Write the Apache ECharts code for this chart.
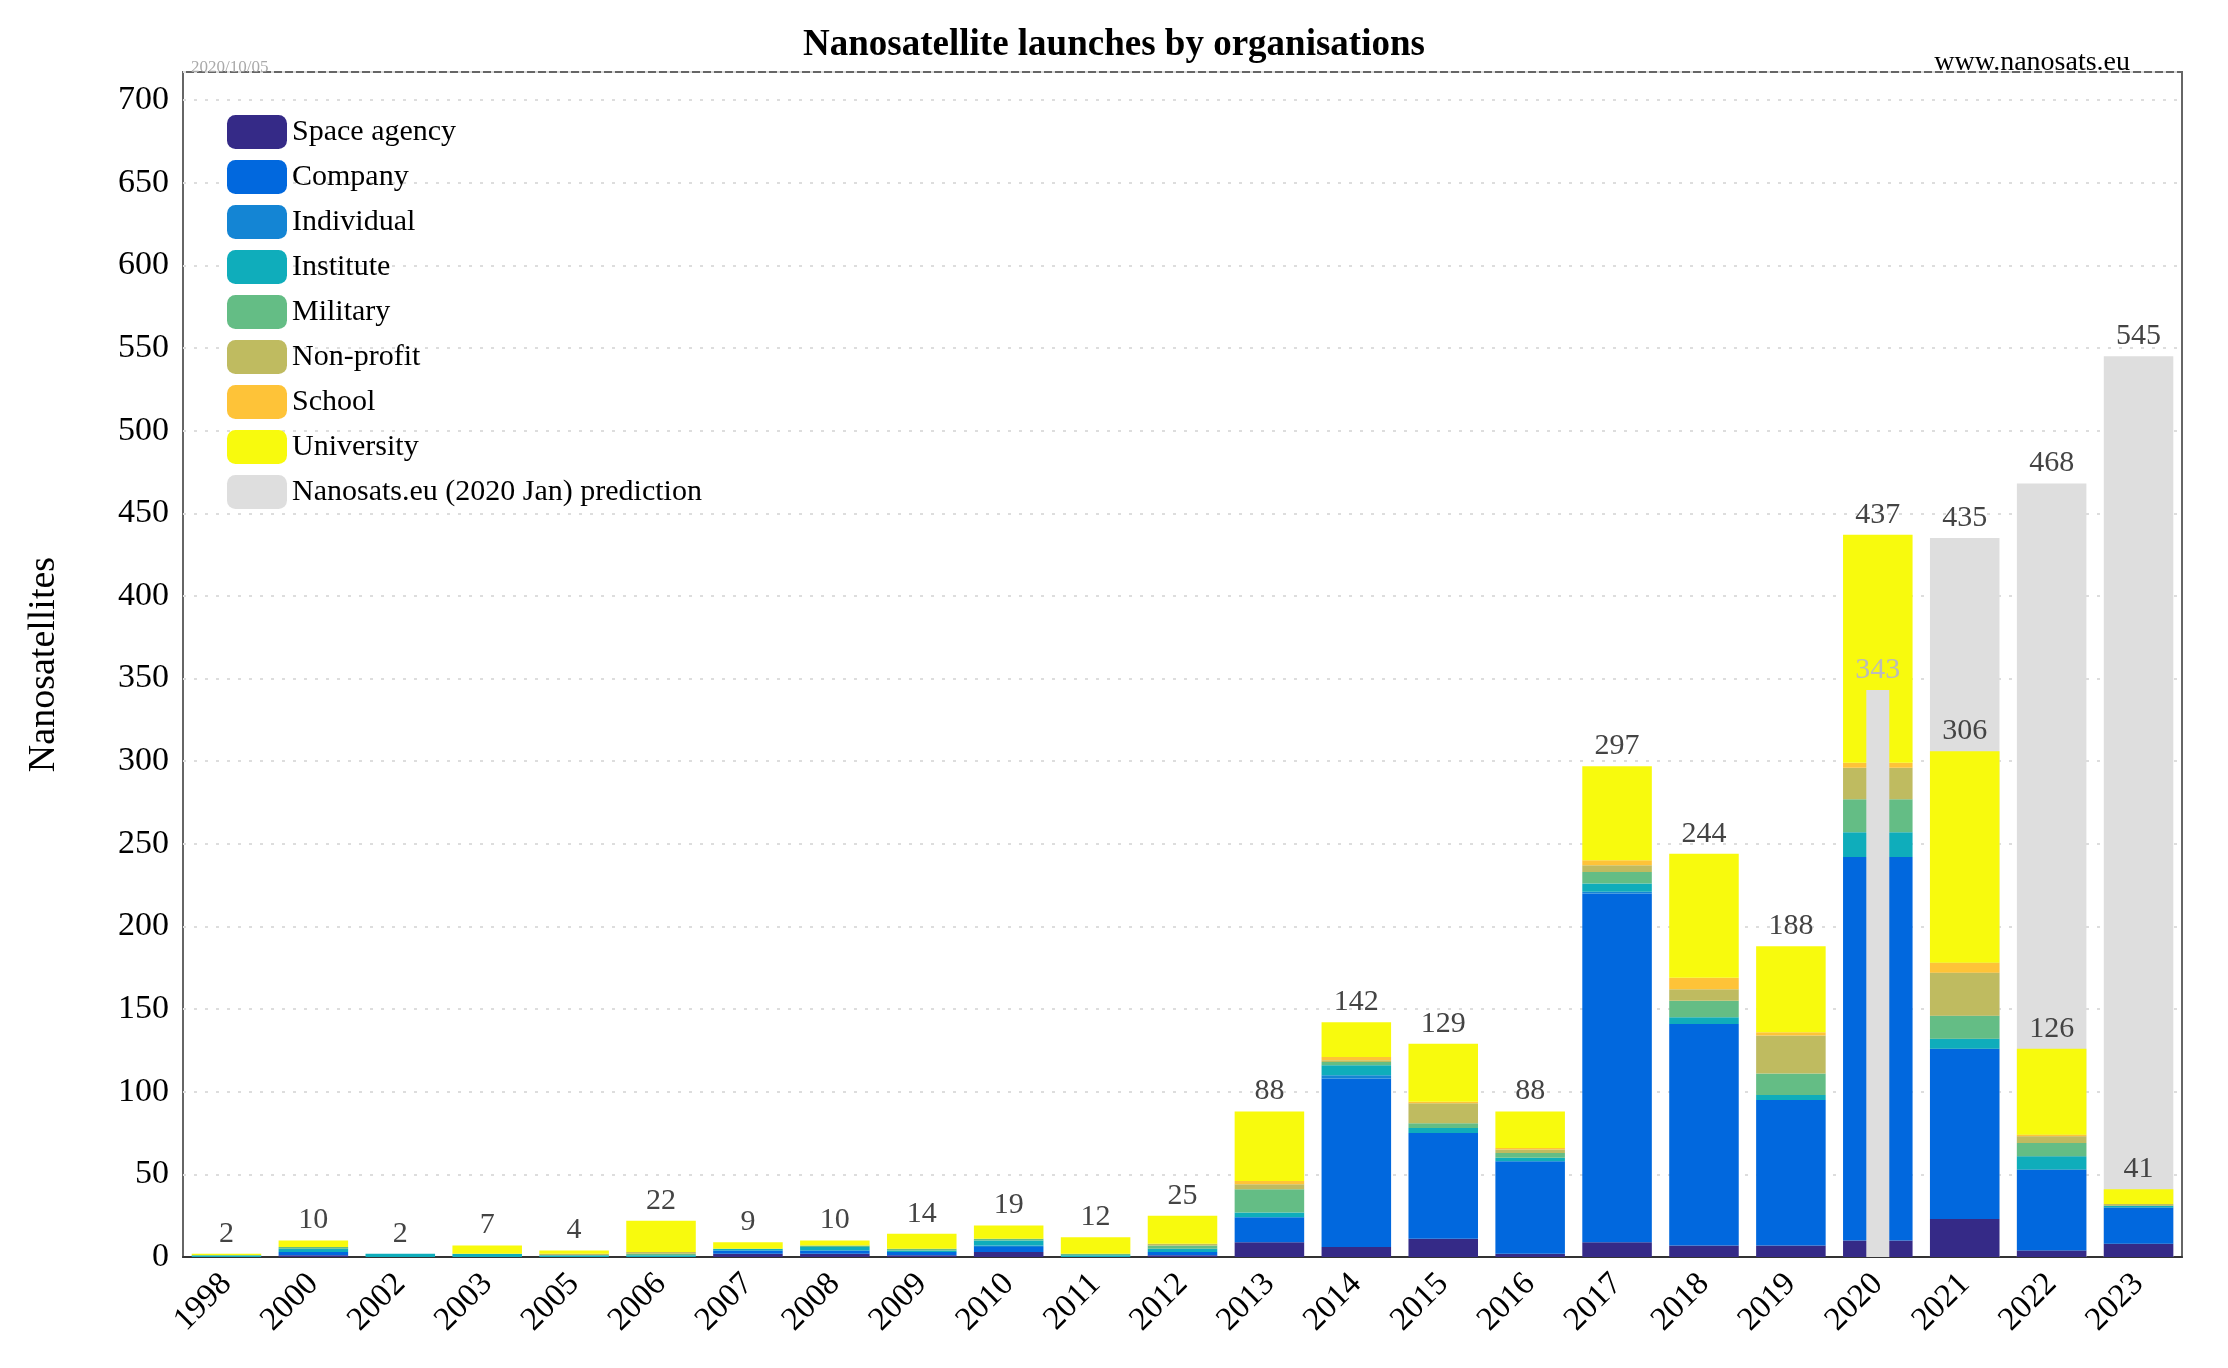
<!DOCTYPE html>
<html><head><meta charset="utf-8">
<script src="https://cdn.jsdelivr.net/npm/echarts@6/dist/echarts.min.js"></script>
<style>html,body{margin:0;background:#fff}#main{width:2228px;height:1368px}</style>
</head><body><div id="main"></div>
<script>
var years = ['1998','2000','2002','2003','2005','2006','2007','2008','2009','2010','2011','2012','2013','2014','2015','2016','2017','2018','2019','2020','2021','2022','2023'];
var spaceAgency = [0,1,0,0,0,0,2,2,1,3,0,1,9,6,11,2,9,7,7,10,23,4,8];
var company     = [0,2,0,0,0,0,2,2,2,3,0,2,15,102,64,56,211,134,88,232,103,49,22];
var individual  = [0,0,0,0,0,0,0,0,0,1,0,0,0,2,0,0,1,0,0,0,0,0,0];
var institute   = [1,2,2,2,1,1,1,2,1,3,1,2,3,6,3,2,5,4,3,15,6,8,1];
var military    = [0,1,0,0,0,1,0,1,1,1,1,2,14,2,3,3,7,10,13,20,14,8,0];
var nonProfit   = [0,0,0,0,1,1,0,0,0,0,0,1,3,1,12,2,4,7,23,19,26,4,1];
var school      = [0,0,0,0,0,0,0,0,0,0,0,0,2,2,1,1,3,7,2,3,6,1,0];
var university  = [1,4,0,5,2,19,4,3,9,8,10,17,42,21,35,22,57,75,52,138,128,52,9];
var totals      = [2,10,2,7,4,22,9,10,14,19,12,25,88,142,129,88,297,244,188,437,306,126,41];
var predictionWide   = ['-','-','-','-','-','-','-','-','-','-','-','-','-','-','-','-','-','-','-','-',435,468,545];
var predictionNarrow = ['-','-','-','-','-','-','-','-','-','-','-','-','-','-','-','-','-','-','-',343,'-','-','-'];

var fontFam = '"Liberation Serif", "DejaVu Serif", serif';
var myChart = echarts.init(document.getElementById('main'));

function stackSeries(name, data, color, withTotal) {
	var s = {
		name: name, type: 'bar', stack: 'all', data: data, z: 3,
		barCategoryGap: '20%',
		itemStyle: {color: color}
	};
	if (withTotal) {
		s.label = {
			show: true, position: 'top', color: '#444', fontSize: 30, fontFamily: fontFam,
			formatter: function (p) { return totals[p.dataIndex]; }
		};
	}
	return s;
}

var option = {
	backgroundColor: '#fff',
	textStyle: {fontFamily: fontFam},
	title: [
		{text: 'Nanosatellite launches by organisations', left: 'center', top: 22,
			textStyle: {fontSize: 37, fontWeight: 'bold', color: '#000', fontFamily: fontFam}},
		{text: '2020/10/05', left: 186, top: 54,
			textStyle: {fontSize: 17, fontWeight: 'normal', color: '#aaa', fontFamily: fontFam}},
		{text: 'www.nanosats.eu', right: 93, top: 44,
			textStyle: {fontSize: 28, fontWeight: 'normal', color: '#000', fontFamily: fontFam}}
	],
	legend: {
		orient: 'vertical', left: 222, top: 110,
		itemWidth: 60, itemHeight: 34, itemGap: 11,
		textStyle: {fontSize: 30, color: '#000', fontFamily: fontFam},
		data: ['Space agency','Company','Individual','Institute','Military','Non-profit','School','University','Nanosats.eu (2020 Jan) prediction']
	},
	grid: {left: 183, right: 46, top: 72, bottom: 111, show: true, borderColor: '#666', borderWidth: 2},
	xAxis: [
		{type: 'category', data: years,
			axisLine: {lineStyle: {color: '#333', width: 2}}, axisTick: {show: false},
			axisLabel: {rotate: 45, fontSize: 33, color: '#000', fontFamily: fontFam, margin: 22}},
		{type: 'category', data: years, show: false}
	],
	yAxis: {
		type: 'value', min: 0, max: 717, interval: 50,
		name: 'Nanosatellites', nameLocation: 'middle', nameGap: 120, nameRotate: 90,
		nameTextStyle: {fontSize: 38, color: '#000', fontFamily: fontFam},
		axisLine: {show: false}, axisTick: {show: false},
		axisLabel: {fontSize: 34, color: '#000', fontFamily: fontFam, showMaxLabel: false, margin: 14},
		splitLine: {lineStyle: {color: '#ddd', type: [3, 8], width: 2}}
	},
	series: [
		{
			name: 'Nanosats.eu (2020 Jan) prediction', type: 'bar', data: predictionWide,
			barGap: '-100%', z: 1, itemStyle: {color: '#dedede'},
			label: {show: true, position: 'top', color: '#444', fontSize: 30, fontFamily: fontFam}
		},
		stackSeries('Space agency', spaceAgency, '#352a87'),
		stackSeries('Company', company, '#0168de'),
		stackSeries('Individual', individual, '#1485d4'),
		stackSeries('Institute', institute, '#0fadbb'),
		stackSeries('Military', military, '#64bd85'),
		stackSeries('Non-profit', nonProfit, '#bfbb60'),
		stackSeries('School', school, '#fec338'),
		stackSeries('University', university, '#f8fa0d', true),
		{
			name: 'Nanosats.eu (2020 Jan) prediction', type: 'bar', xAxisIndex: 1, data: predictionNarrow,
			barWidth: 23, z: 5, itemStyle: {color: '#dedede'},
			label: {show: true, position: 'top', color: '#bbb', fontSize: 30, fontFamily: fontFam}
		}
	]
};
myChart.setOption(option);
</script>
</body></html>
